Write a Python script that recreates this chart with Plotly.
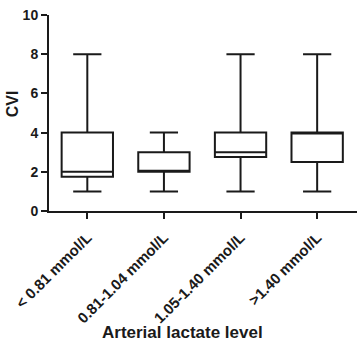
import plotly.graph_objects as go

categories = ["< 0.81 mmol/L", "0.81-1.04 mmol/L", "1.05-1.40 mmol/L", ">1.40 mmol/L"]
lower = [1, 1, 1, 1]
q1 = [1.75, 2, 2.75, 2.5]
median = [2, 2, 3, 4]
q3 = [4, 3, 4, 4]
upper = [8, 4, 8, 8]
y_ticks = [0, 2, 4, 6, 8, 10]

FONT = "Liberation Sans, Arial, sans-serif"

fig = go.Figure()
fig.add_trace(go.Box(
    x=categories, q1=q1, median=median, q3=q3,
    lowerfence=lower, upperfence=upper,
    fillcolor="white", line=dict(color="#1a1a1a", width=2),
    width=0.67, whiskerwidth=0.55, boxpoints=False, showlegend=False,
    hoverinfo="skip",
))

fig.update_layout(
    width=358, height=343,
    margin=dict(l=49, r=1, t=15, b=132),
    paper_bgcolor="white", plot_bgcolor="white",
    font=dict(family=FONT, color="#1a1a1a"),
    xaxis=dict(
        type="category", range=[-0.5, 3.52], automargin=False,
        showline=True, linecolor="#1a1a1a", linewidth=2,
        ticks="outside", ticklen=6, tickwidth=2, tickcolor="#1a1a1a",
        tickangle=-45, tickfont=dict(size=15, weight="bold", family=FONT),
        ticklabelstandoff=4,
        showgrid=False, zeroline=False,
    ),
    yaxis=dict(
        range=[0, 10], tickvals=y_ticks, automargin=False,
        ticklabeloverflow="allow",
        showline=True, linecolor="#1a1a1a", linewidth=2,
        ticks="outside", ticklen=6, tickwidth=2, tickcolor="#1a1a1a",
        tickfont=dict(size=14, weight="bold", family=FONT),
        showgrid=False, zeroline=False,
    ),
    annotations=[
        dict(
            text="Arterial lactate level", xref="paper", yref="paper",
            x=0.435, y=-0.622, xanchor="center", yanchor="middle", showarrow=False,
            font=dict(size=17, weight="bold", family=FONT),
        ),
        dict(
            text="CVI", xref="paper", yref="paper", textangle=-90,
            x=-0.12, y=0.545, xanchor="center", yanchor="middle", showarrow=False,
            font=dict(size=16, weight="bold", family=FONT),
        ),
    ],
)

fig.write_html("out.html", config={"displayModeBar": False},
               post_script="document.body.style.margin='0';")
